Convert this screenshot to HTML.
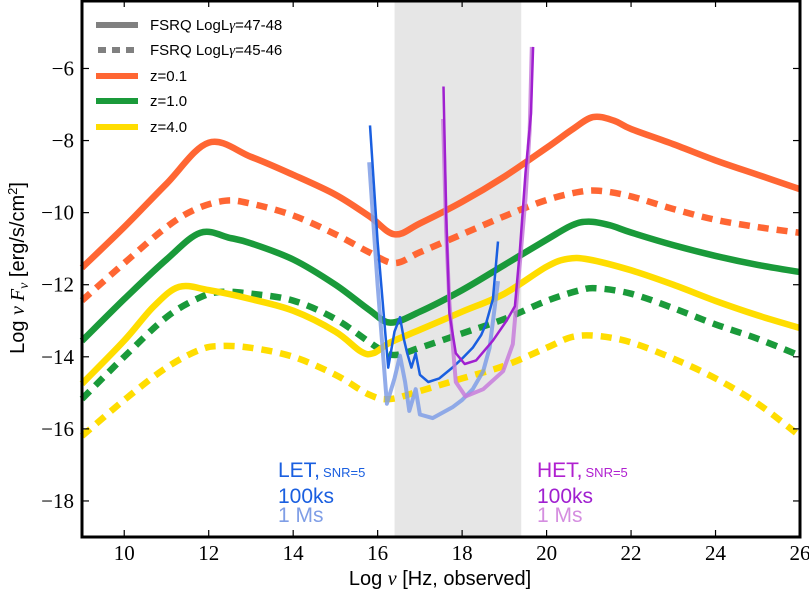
<!DOCTYPE html>
<html><head><meta charset="utf-8"><style>
body{margin:0;background:#fff;}
svg{display:block;font-family:"Liberation Sans",sans-serif;}
text.tk{font-family:"Liberation Serif",serif !important;font-size:21px;}
</style></head><body>
<svg id="chart" width="809" height="593" viewBox="0 0 809 593" xmlns="http://www.w3.org/2000/svg">
<g id="plot"></g>
</svg>
<script>
// ---- data ----
const xTicks=[10,12,14,16,18,20,22,24,26];
const yTicks=[-18,-16,-14,-12,-10,-8,-6];
const band=[16.4,19.4];
const orangeSolidX=[9,10,11,12,13,14,15,15.8,16.4,17,18,19,20,20.6,21.1,21.6,22,23,24,25,26];
const orangeSolidY=[-11.53,-10.4,-9.2,-8.06,-8.45,-8.95,-9.5,-10.1,-10.6,-10.3,-9.7,-9.0,-8.2,-7.7,-7.35,-7.45,-7.68,-8.1,-8.55,-8.95,-9.35];
const orangeDashX=[9,10,11,11.7,12.4,13,14,15,15.8,16.4,17,18,19,20,20.8,21.3,22,23,24,25,26];
const orangeDashY=[-12.44,-11.4,-10.4,-9.9,-9.67,-9.75,-10.08,-10.6,-11.1,-11.4,-11.1,-10.6,-10.1,-9.65,-9.42,-9.4,-9.55,-9.9,-10.2,-10.4,-10.56];
const greenSolidX=[9,10,11,11.8,12.5,13,14,15,15.8,16.3,17,18,19,20,20.6,21,21.5,22,23,24,25,26];
const greenSolidY=[-13.56,-12.4,-11.3,-10.56,-10.7,-10.85,-11.3,-12.0,-12.7,-13.05,-12.75,-12.15,-11.45,-10.75,-10.35,-10.25,-10.35,-10.55,-10.9,-11.2,-11.45,-11.65];
const greenDashX=[9,10,11,11.8,12.3,13,14,15,16,16.4,17,18,19,20,20.8,21.2,22,23,24,25,26];
const greenDashY=[-15.17,-14.0,-12.9,-12.35,-12.2,-12.25,-12.44,-12.95,-13.75,-13.95,-13.75,-13.35,-12.95,-12.45,-12.15,-12.1,-12.25,-12.65,-13.1,-13.5,-13.97];
const yellowSolidX=[9,10,10.7,11.3,12,13,14,15,15.6,15.9,16.3,17,18,19,20,20.5,21,22,23,24,25,26];
const yellowSolidY=[-14.75,-13.55,-12.6,-12.06,-12.15,-12.4,-12.72,-13.3,-13.85,-13.9,-13.6,-13.25,-12.75,-12.25,-11.5,-11.28,-11.3,-11.6,-12.0,-12.45,-12.85,-13.2];
const yellowDashX=[9,10,11,11.8,12.3,13,14,15,15.8,16.3,17,18,19,20,20.6,21.2,22,23,24,25,26];
const yellowDashY=[-16.2,-15.2,-14.3,-13.8,-13.7,-13.75,-14.0,-14.5,-15.05,-15.17,-14.95,-14.6,-14.25,-13.75,-13.45,-13.42,-13.6,-14.05,-14.6,-15.3,-16.2];
const let100X=[15.82,16.0,16.25,16.4,16.53,16.62,16.7,16.8,16.9,17.0,17.2,17.46,17.77,18.0,18.25,18.45,18.56,18.73,18.85];
const let100Y=[-7.58,-10.8,-14.3,-13.3,-12.9,-13.5,-13.9,-14.3,-13.9,-14.5,-14.7,-14.6,-14.3,-14.05,-13.75,-13.4,-13.1,-12.4,-10.8];
const let1MX=[15.8,16.0,16.22,16.4,16.53,16.65,16.75,16.9,17.0,17.3,17.77,18.0,18.25,18.5,18.65,18.85];
const let1MY=[-8.6,-12.0,-15.3,-14.6,-13.97,-14.7,-15.5,-14.9,-15.6,-15.7,-15.4,-15.2,-14.9,-14.4,-13.75,-11.9];
const het100X=[17.56,17.62,17.7,17.85,18.06,18.33,18.73,19.05,19.25,19.37,19.5,19.63,19.68];
const het100Y=[-6.5,-10.0,-12.8,-13.9,-14.2,-14.1,-13.55,-13.0,-12.6,-11.0,-8.9,-7.25,-5.4];
const het1MX=[17.55,17.62,17.7,17.85,18.08,18.5,18.97,19.2,19.33,19.5,19.6,19.65];
const het1MY=[-7.4,-10.5,-12.5,-14.7,-15.1,-14.9,-14.4,-13.65,-11.9,-9.6,-7.7,-5.4];
// ---- axes ----
const L=82,R=800,T=0,B=537,X0=9,X1=26,Y0=-19.0,Y1=-4.1;
const sx=v=>L+(v-X0)*(R-L)/(X1-X0);
const sy=v=>B-(v-Y0)*(B-T)/(Y1-Y0);
const NS="http://www.w3.org/2000/svg";
const g=document.getElementById('plot');
function mk(tag,attrs,parent){const e=document.createElementNS(NS,tag);for(const k in attrs)e.setAttribute(k,attrs[k]);(parent||g).appendChild(e);return e;}
const bandEl=mk('rect',{x:sx(band[0]),y:T,width:sx(band[1])-sx(band[0]),height:B-T,fill:'#e6e6e6'});


function smoothPath(xs,ys){
  const P=xs.map((x,i)=>[sx(x),sy(ys[i])]);
  let d='M'+P[0][0].toFixed(1)+','+P[0][1].toFixed(1);
  for(let i=0;i<P.length-1;i++){
    const p0=P[i-1]||P[i],p1=P[i],p2=P[i+1],p3=P[i+2]||P[i+1];
    const c1=[p1[0]+(p2[0]-p0[0])/6,p1[1]+(p2[1]-p0[1])/6];
    const c2=[p2[0]-(p3[0]-p1[0])/6,p2[1]-(p3[1]-p1[1])/6];
    d+=' C'+c1[0].toFixed(1)+','+c1[1].toFixed(1)+' '+c2[0].toFixed(1)+','+c2[1].toFixed(1)+' '+p2[0].toFixed(1)+','+p2[1].toFixed(1);
  }
  return d;
}
function curve(xs,ys,color,w,dash,name){
  const p=mk('path',{d:smoothPath(xs,ys),fill:'none',stroke:color,'stroke-width':w,'stroke-linejoin':'round'});
  if(dash)p.setAttribute('stroke-dasharray',dash);
  
  
}
function line(xs,ys,color,w,op,name){
  const pts=xs.map((x,i)=>sx(x).toFixed(1)+','+sy(ys[i]).toFixed(1)).join(' ');
  const p=mk('polyline',{points:pts,fill:'none',stroke:color,'stroke-width':w,'stroke-linejoin':'round','stroke-opacity':op});
  
  
}
curve(orangeSolidX,orangeSolidY,'#ff6633',6.5,null,'z01-high-lum-curve');
curve(orangeDashX,orangeDashY,'#ff6633',6.5,'11 8','z01-low-lum-curve');
curve(greenSolidX,greenSolidY,'#1a9a3a',6.5,null,'z1-high-lum-curve');
curve(greenDashX,greenDashY,'#1a9a3a',6.5,'11 8','z1-low-lum-curve');
curve(yellowSolidX,yellowSolidY,'#ffdd00',6.5,null,'z4-high-lum-curve');
curve(yellowDashX,yellowDashY,'#ffdd00',6.5,'11 8','z4-low-lum-curve');
line(let1MX,let1MY,'#7f9ee6',4,0.85,'let-1ms-sensitivity');
line(let100X,let100Y,'#1a5fe0',2.5,1,'let-100ks-sensitivity');
line(het1MX,het1MY,'#c77ddb',4,0.85,'het-1ms-sensitivity');
line(het100X,het100Y,'#a020d0',2.5,1,'het-100ks-sensitivity');
// frame & ticks
const fr=mk('rect',{x:L,y:T+1,width:R-L,height:B-T-1,fill:'none',stroke:'#000','stroke-width':3});


xTicks.forEach(v=>{
  const x=sx(v);
  mk('line',{x1:x,x2:x,y1:B,y2:B-7,stroke:'#000','stroke-width':1.2});
  mk('line',{x1:x,x2:x,y1:T,y2:T+7,stroke:'#000','stroke-width':1.2});
  const t=mk('text',{x:x,y:B+23,'text-anchor':'middle',class:'tk',style:"font-family:'Liberation Serif',serif"});
  t.textContent=v;
  
  
});
yTicks.forEach(v=>{
  const y=sy(v);
  mk('line',{x1:L,x2:L+7,y1:y,y2:y,stroke:'#000','stroke-width':1.2});
  mk('line',{x1:R,x2:R-7,y1:y,y2:y,stroke:'#000','stroke-width':1.2});
  const t=mk('text',{x:L-8,y:y+7,'text-anchor':'end',class:'tk',style:"font-family:'Liberation Serif',serif"});
  t.textContent='\u2212'+Math.abs(v);
  
  
});
</script>
<svg style="position:absolute;left:0;top:0" width="809" height="593" xmlns="http://www.w3.org/2000/svg">
<g font-size="15">
 <g><line x1="96" y1="25" x2="138" y2="25" stroke="#808080" stroke-width="6"/><text x="150" y="30">FSRQ LogL<tspan font-style="italic" font-family="Liberation Serif">γ</tspan>=47-48</text></g>
 <g><line x1="98" y1="50" x2="138" y2="50" stroke="#808080" stroke-width="6" stroke-dasharray="8 6"/><text x="150" y="55">FSRQ LogL<tspan font-style="italic" font-family="Liberation Serif">γ</tspan>=45-46</text></g>
 <g><line x1="96" y1="76" x2="138" y2="76" stroke="#ff6633" stroke-width="6"/><text x="150" y="81">z=0.1</text></g>
 <g><line x1="96" y1="101" x2="138" y2="101" stroke="#1a9a3a" stroke-width="6"/><text x="150" y="106">z=1.0</text></g>
 <g><line x1="96" y1="127" x2="138" y2="127" stroke="#ffdd00" stroke-width="6"/><text x="150" y="132">z=4.0</text></g>
</g>
<g>
 <text x="278" y="477" font-size="21" fill="#1a5fe0">LET,<tspan font-size="13" dx="3">SNR=5</tspan></text>
 <text x="278" y="503" font-size="21" fill="#1a5fe0">100ks</text>
 <text x="278" y="522" font-size="21" fill="#7f9ee6">1 Ms</text>
</g>
<g>
 <text x="537" y="477" font-size="21" fill="#b020d0">HET,<tspan font-size="13" dx="3">SNR=5</tspan></text>
 <text x="537" y="503" font-size="21" fill="#a020d0">100ks</text>
 <text x="537" y="522" font-size="21" fill="#d58ee0">1 Ms</text>
</g>
<text x="440" y="585" text-anchor="middle" font-size="20">Log <tspan font-family="Liberation Serif" font-style="italic">ν</tspan> [Hz, observed]</text>
<text transform="translate(24,268) rotate(-90)" text-anchor="middle" font-size="20">Log <tspan font-family="Liberation Serif" font-style="italic">ν F</tspan><tspan font-family="Liberation Serif" font-style="italic" font-size="14" dy="4">ν</tspan><tspan dy="-4"> [erg/s/cm</tspan><tspan font-size="13" dy="-7">2</tspan><tspan dy="7">]</tspan></text>
</svg>
</body></html>
